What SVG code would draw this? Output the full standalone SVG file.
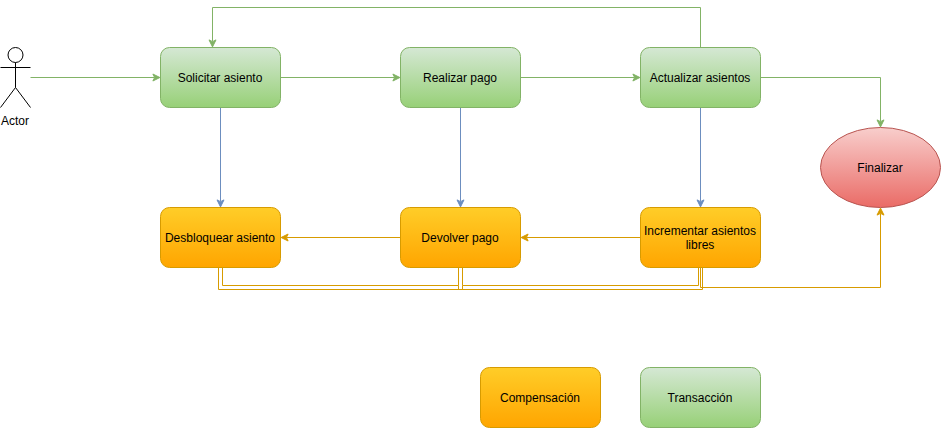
<svg xmlns="http://www.w3.org/2000/svg" width="941" height="428" viewBox="0 0 941 428">
<style>
text{font-family:"Liberation Sans",Arial,Helvetica,sans-serif;font-size:12px;fill:#000;text-anchor:middle}
.g{fill:url(#gg);stroke:#82b366}
.o{fill:url(#go);stroke:#d79b00}
.r{fill:url(#gr);stroke:#b85450}
.c{fill:none;stroke-miterlimit:10}
.cg{stroke:#82b366}.cb{stroke:#6c8ebf}.co{stroke:#d79b00}
.ag{fill:#82b366;stroke:#82b366}.ab{fill:#6c8ebf;stroke:#6c8ebf}.ao{fill:#d79b00;stroke:#d79b00}
</style>
<defs>
<linearGradient id="gg" x1="0" y1="0" x2="0" y2="1"><stop offset="0" stop-color="#d5e8d4"/><stop offset="1" stop-color="#97d077"/></linearGradient>
<linearGradient id="go" x1="0" y1="0" x2="0" y2="1"><stop offset="0" stop-color="#ffcd28"/><stop offset="1" stop-color="#ffa500"/></linearGradient>
<linearGradient id="gr" x1="0" y1="0" x2="0" y2="1"><stop offset="0" stop-color="#f8cecc"/><stop offset="1" stop-color="#ea6b66"/></linearGradient>
<marker id="mg" markerUnits="userSpaceOnUse" markerWidth="10" markerHeight="10" viewBox="0 0 10 10" refX="2.75" refY="5" orient="auto"><path d="M1 1.5 8 5 1 8.5 2.75 5Z" class="ag"/></marker>
<marker id="mb" markerUnits="userSpaceOnUse" markerWidth="10" markerHeight="10" viewBox="0 0 10 10" refX="2.75" refY="5" orient="auto"><path d="M1 1.5 8 5 1 8.5 2.75 5Z" class="ab"/></marker>
<marker id="mo" markerUnits="userSpaceOnUse" markerWidth="10" markerHeight="10" viewBox="0 0 10 10" refX="2.75" refY="5" orient="auto"><path d="M1 1.5 8 5 1 8.5 2.75 5Z" class="ao"/></marker>
</defs>
<rect width="941" height="428" fill="#fff"/>
<g id="connectors">
<path class="c cg" marker-end="url(#mg)" d="M30.5 77.5H154.63"/>
<path class="c cg" marker-end="url(#mg)" d="M280.5 77.5H394.63"/>
<path class="c cg" marker-end="url(#mg)" d="M520.5 77.5H634.63"/>
<path class="c cg" marker-end="url(#mg)" d="M760.5 77.5H880.5V121.63"/>
<path class="c cg" marker-end="url(#mg)" d="M700.5 47.5V7.5H212.5V41.63"/>
<path class="c cb" marker-end="url(#mb)" d="M220.5 107.5V201.63"/>
<path class="c cb" marker-end="url(#mb)" d="M460.5 107.5V201.63"/>
<path class="c cb" marker-end="url(#mb)" d="M700.5 107.5V201.63"/>
<path class="c co" marker-end="url(#mo)" d="M640.5 237.5H526.37"/>
<path class="c co" marker-end="url(#mo)" d="M400.5 237.5H286.37"/>
<path class="c co" d="M222.5 267.5V285.5H458.5V267.5"/>
<path class="c co" d="M218.5 267.5V289.5H702.5V267.5"/>
<path class="c co" d="M462.5 267.5V285.5H698.5V267.5"/>
<path class="c co" d="M458.5 285.5V289.5M462.5 285.5V289.5"/>
<path class="c co" marker-end="url(#mo)" d="M700.5 267.5V287.5H880.5V213.37"/>
</g>
<g id="actor" fill="none" stroke="#000">
<ellipse cx="15.5" cy="55" rx="7.5" ry="7.5"/>
<path d="M15.5 62.5V87.5M0.5 67.5H30.5M15.5 87.5 0.5 107.5M15.5 87.5 30.5 107.5"/>
<text x="15" y="125" stroke="none">Actor</text>
</g>
<g id="solicitar"><rect class="g" x="160.5" y="47.5" width="120" height="60" rx="9" ry="9"/><text x="220" y="82">Solicitar asiento</text></g>
<g id="realizar"><rect class="g" x="400.5" y="47.5" width="120" height="60" rx="9" ry="9"/><text x="460" y="82">Realizar pago</text></g>
<g id="actualizar"><rect class="g" x="640.5" y="47.5" width="120" height="60" rx="9" ry="9"/><text x="700" y="82">Actualizar asientos</text></g>
<g id="finalizar"><ellipse class="r" cx="880.5" cy="167.5" rx="60" ry="40"/><text x="880" y="172">Finalizar</text></g>
<g id="desbloquear"><rect class="o" x="160.5" y="207.5" width="120" height="60" rx="9" ry="9"/><text x="220" y="242">Desbloquear asiento</text></g>
<g id="devolver"><rect class="o" x="400.5" y="207.5" width="120" height="60" rx="9" ry="9"/><text x="460" y="242">Devolver pago</text></g>
<g id="incrementar"><rect class="o" x="640.5" y="207.5" width="120" height="60" rx="9" ry="9"/><text x="700" y="235">Incrementar asientos</text><text x="700" y="249">libres</text></g>
<g id="compensacion"><rect class="o" x="480.5" y="367.5" width="120" height="60" rx="9" ry="9"/><text x="540" y="402">Compensación</text></g>
<g id="transaccion"><rect class="g" x="640.5" y="367.5" width="120" height="60" rx="9" ry="9"/><text x="700" y="402">Transacción</text></g>
</svg>
